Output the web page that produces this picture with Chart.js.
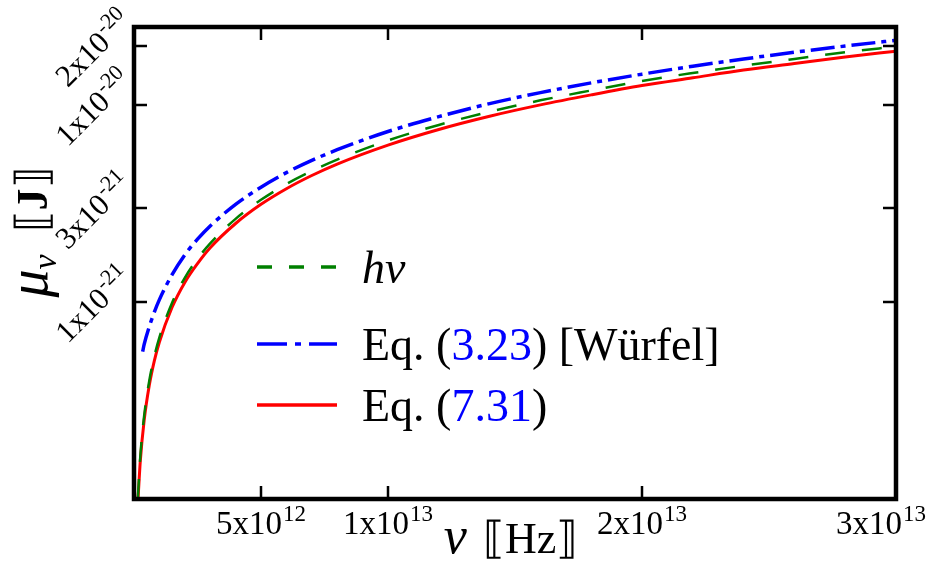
<!DOCTYPE html>
<html><head><meta charset="utf-8">
<script src="https://cdn.jsdelivr.net/npm/chart.js@4/dist/chart.umd.min.js"></script>
<style>html,body{margin:0;padding:0;background:#fff;}#wrap{width:930px;height:565px;}</style>
</head><body><div id="wrap"><canvas id="c" width="930" height="565"></canvas></div>
<script>
// frequencies in units of 1e12 Hz, energies in units of 1e-21 J
const nuHv   = [0.15,0.25,0.4,0.6,0.8,1,1.5,2,2.5,3,4,5,6,7,8,10,12,14,16,18,20,22,24,26,28,30];
const muHv   = [0.100,0.166,0.265,0.398,0.530,0.663,0.994,1.33,1.66,1.99,2.65,3.31,3.98,4.64,5.30,6.63,7.95,9.28,10.6,11.9,13.3,14.6,15.9,17.2,18.6,19.9];
const nuWurf = [0.34,0.4,0.6,0.8,1,1.5,2,2.5,3,4,5,6,7,8,10,12,14,16,18,20,22,24,26,28,30];
const muWurf = [0.56,0.61,0.75,0.89,1.03,1.38,1.74,2.09,2.44,3.14,3.84,4.55,5.25,5.95,7.36,8.76,10.2,11.6,13.0,14.4,15.8,17.2,18.6,20.0,21.4];
const nuEq731 = [0.16,0.25,0.4,0.6,0.8,1,1.5,2,2.5,3,4,5,6,7,8,10,12,14,16,18,20,22,24,26,28,30];
const muEq731 = [0.101,0.157,0.251,0.377,0.503,0.628,0.942,1.26,1.57,1.89,2.51,3.14,3.77,4.40,5.03,6.28,7.54,8.80,10.05,11.3,12.6,13.8,15.1,16.3,17.6,18.85];

const xTickValues = [5e12, 1e13, 2e13, 3e13];
const xTickLabels = [["5x10","12"],["1x10","13"],["2x10","13"],["3x10","13"]];
const yTickValues = [1e-21, 3e-21, 1e-20, 2e-20];
const yTickLabels = [["1x10","-21"],["3x10","-21"],["1x10","-20"],["2x10","-20"]];

const xTitle = ["ν", "⟦Hz⟧"];
const yTitle = ["μ", "ν", "⟦", "J", "⟧"];
const legendRows = [
  [["h","#000","italic"],["ν","#000","italic"]],
  [["Eq. (","#000",""],["3.23","#0000ff",""],[") [Würfel]","#000",""]],
  [["Eq. (","#000",""],["7.31","#0000ff",""],[")","#000",""]]
];

const SERIF = '"Liberation Serif","DejaVu Serif",serif';
const toPts = (xs, ys) => xs.map((v,i)=>({x:v*1e12, y:ys[i]*1e-21}));

function drawSup(ctx, base, sup, x, y, m, s, r) {
  ctx.font = m + 'px ' + SERIF;
  const wb = ctx.measureText(base).width;
  ctx.fillText(base, x, y);
  ctx.font = s + 'px ' + SERIF;
  ctx.fillText(sup, x + wb + 1, y - r);
}
function supWidth(ctx, base, sup, m, s) {
  ctx.font = m + 'px ' + SERIF;
  const wb = ctx.measureText(base).width;
  ctx.font = s + 'px ' + SERIF;
  return wb + 1 + ctx.measureText(sup).width;
}

const deco = {
  id: 'deco',
  afterDatasetsDraw(chart) {
    const {ctx, chartArea: a, scales: {x, y}} = chart;
    ctx.save();
    ctx.strokeStyle = '#000';
    ctx.lineWidth = 2.5;
    ctx.beginPath();
    x.ticks.forEach(t => {
      const p = Math.round(x.getPixelForValue(t.value));
      ctx.moveTo(p, a.bottom); ctx.lineTo(p, a.bottom - 13);
      ctx.moveTo(p, a.top); ctx.lineTo(p, a.top + 13);
    });
    y.ticks.forEach(t => {
      const p = Math.round(y.getPixelForValue(t.value));
      ctx.moveTo(a.left, p); ctx.lineTo(a.left + 13, p);
      ctx.moveTo(a.right, p); ctx.lineTo(a.right - 13, p);
    });
    ctx.stroke();
    ctx.lineWidth = 4.5;
    ctx.strokeRect(a.left, a.top, a.right - a.left, a.bottom - a.top);
    ctx.restore();
  },
  afterDraw(chart) {
    const {ctx, chartArea: a, scales: {x, y}} = chart;
    ctx.save();
    ctx.fillStyle = '#000';
    ctx.textBaseline = 'alphabetic';
    ctx.textAlign = 'left';
    // x tick labels
    x.ticks.forEach((t, i) => {
      const [b, s] = xTickLabels[i];
      const w = supWidth(ctx, b, s, 33, 23);
      let left = x.getPixelForValue(t.value) - w / 2;
      if (left + w > chart.width - 4) left = chart.width - 4 - w;
      drawSup(ctx, b, s, left, a.bottom + 35, 33, 23, 13);
    });
    // y tick labels rotated 45
    y.ticks.forEach((t, i) => {
      const [b, s] = yTickLabels[i];
      const w = supWidth(ctx, b, s, 31, 22);
      const h = 24;
      const half = (w + h) / (2 * Math.SQRT2);
      const cx = a.left - 1 - half;
      const cy = y.getPixelForValue(t.value) + 1;
      ctx.save();
      ctx.translate(cx, cy);
      ctx.rotate(-Math.PI / 4);
      drawSup(ctx, b, s, -w / 2, h / 2, 31, 22, 12);
      ctx.restore();
    });
    // x title
    ctx.font = 'italic 52px ' + SERIF;
    const wNu = ctx.measureText(xTitle[0]).width;
    ctx.font = '44px ' + SERIF;
    const wHz = ctx.measureText(xTitle[1]).width;
    const gap = 16;
    let sx = (a.left + a.right) / 2 - (wNu + gap + wHz) / 2 - 4;
    ctx.font = 'italic 52px ' + SERIF;
    ctx.fillText(xTitle[0], sx, 553);
    ctx.font = '44px ' + SERIF;
    ctx.fillText(xTitle[1], sx + wNu + gap, 553);
    // y title
    const parts = [
      [yTitle[0], 'italic 56px ' + SERIF, 0],
      [yTitle[1], 'italic 34px ' + SERIF, 9],
      ['  ' + yTitle[2], '44px ' + SERIF, 0],
      [yTitle[3], 'bold 44px ' + SERIF, 0],
      [yTitle[4], '44px ' + SERIF, 0]
    ];
    let tot = 0;
    parts.forEach(p => { ctx.font = p[1]; p.push(ctx.measureText(p[0]).width); tot += p[3]; });
    ctx.save();
    ctx.translate(47, 232);
    ctx.rotate(-Math.PI / 2);
    let u = -tot / 2;
    parts.forEach(p => { ctx.font = p[1]; ctx.fillText(p[0], u, p[2]); u += p[3]; });
    ctx.restore();
    // legend
    const ds = chart.data.datasets;
    const rowY = [267, 344, 405];
    const legendDash = [[15,17],[30,8,6,8],[]];
    ds.forEach((d, i) => {
      const yy = rowY[i];
      ctx.save();
      ctx.strokeStyle = d.borderColor;
      ctx.lineWidth = 3.5;
      ctx.setLineDash(legendDash[i]);
      ctx.beginPath();
      ctx.moveTo(257, yy); ctx.lineTo(337, yy);
      ctx.stroke();
      ctx.restore();
      let tx = 362;
      legendRows[i].forEach(([txt, col, st]) => {
        ctx.font = (st ? st + ' ' : '') + '46px ' + SERIF;
        ctx.fillStyle = col;
        ctx.fillText(txt, tx, yy + 16);
        tx += ctx.measureText(txt).width;
      });
    });
    ctx.restore();
  }
};

new Chart(document.getElementById('c'), {
  type: 'line',
  data: {
    datasets: [
      {label: 'hν', data: toPts(nuHv, muHv), borderColor: '#008000', borderWidth: 2.5, borderDash: [20,17], pointRadius: 0, cubicInterpolationMode: 'monotone', fill: false},
      {label: 'Eq. (3.23) [Würfel]', data: toPts(nuWurf, muWurf), borderColor: '#0000ff', borderWidth: 3.5, borderDash: [24,6,5,6], pointRadius: 0, cubicInterpolationMode: 'monotone', fill: false},
      {label: 'Eq. (7.31)', data: toPts(nuEq731, muEq731), borderColor: '#ff0000', borderWidth: 3, pointRadius: 0, cubicInterpolationMode: 'monotone', fill: false}
    ]
  },
  options: {
    responsive: false,
    animation: false,
    devicePixelRatio: 1,
    layout: {padding: {top: 27, right: 34, left: 0, bottom: 0}},
    plugins: {legend: {display: false}, tooltip: {enabled: false}},
    scales: {
      x: {
        type: 'linear', min: 0, max: 3e13,
        grid: {display: false}, border: {display: false},
        ticks: {display: false},
        afterBuildTicks: s => { s.ticks = xTickValues.map(v => ({value: v})); },
        afterFit: s => { s.height = 66; }
      },
      y: {
        type: 'logarithmic', min: 1e-22, max: 2.5e-20,
        grid: {display: false}, border: {display: false},
        ticks: {display: false},
        afterBuildTicks: s => { s.ticks = yTickValues.map(v => ({value: v})); },
        afterFit: s => { s.width = 134; }
      }
    }
  },
  plugins: [deco]
});
</script>
</body></html>
